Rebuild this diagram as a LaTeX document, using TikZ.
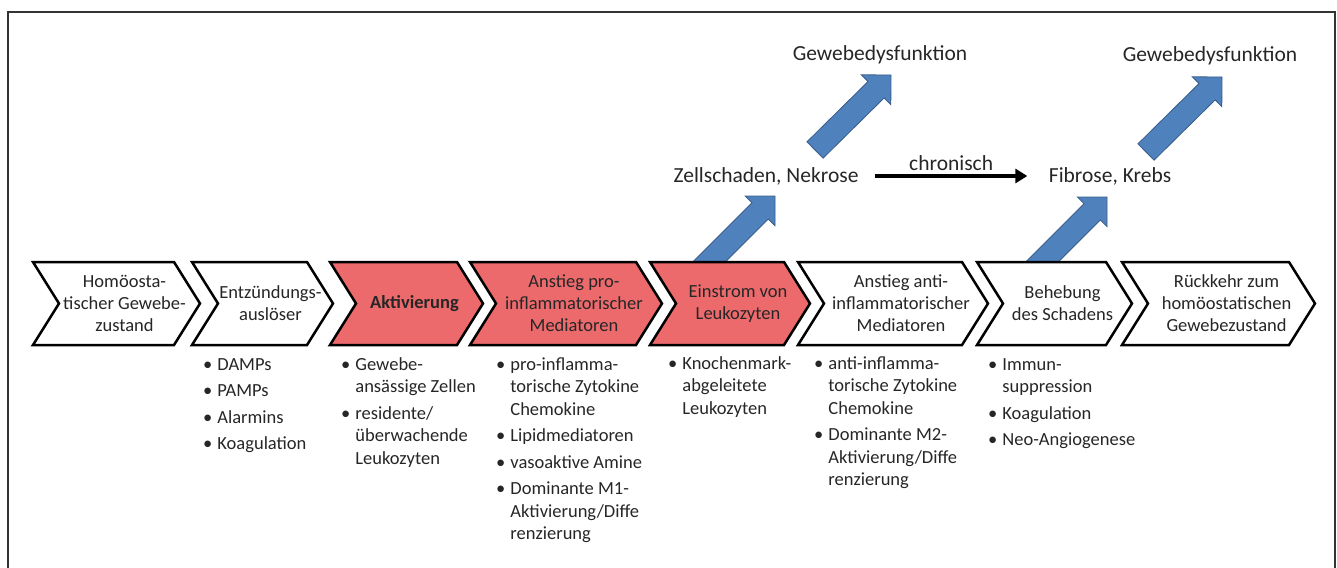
\documentclass[tikz,border=0pt]{standalone}
\usepackage{fontspec}
\setmainfont{Carlito}
\usetikzlibrary{calc,arrows.meta}
\definecolor{chevred}{RGB}{236,106,108}
\definecolor{arrblue}{RGB}{79,129,189}
\definecolor{arredge}{RGB}{56,93,138}
\newcommand{\chev}[5]{%
  \draw[chevline,fill=#4] (#2,262)--(#3-26,262)--(#3,303.5)--(#3-26,345)--(#2,345)--(#2+26,303.5)--cycle;%
  \node[chevtext] (#1) at ({(#2+#3)/2+8},303.5) {#5};%
}
\newcommand{\fatarrow}[2]{%
  \coordinate (fa) at ($(#2)!21pt!(#1)$);%
  \filldraw[fatarrow] ($(#1)!11.5pt!90:(#2)$)--($(fa)!11.5pt!90:(#2)$)--($(fa)!21pt!90:(#2)$)--(#2)%
    --($(fa)!21pt!-90:(#2)$)--($(fa)!11.5pt!-90:(#2)$)--($(#1)!11.5pt!-90:(#2)$)--cycle;%
}
\newcommand{\itemlist}[1]{\begin{tabular}[t]{@{}l@{\hspace{5pt}}l@{}}#1\end{tabular}}

\begin{document}
\begin{tikzpicture}[x=1pt,y=-1pt,
  chevline/.style={draw=black,line width=2.5pt},
  chevtext/.style={align=center,font=\fontsize{18.5}{22}\selectfont,text=black!85},
  bullets/.style={anchor=base west,inner sep=0pt,font=\fontsize{18.5}{22.5}\selectfont,text=black!85},
  toptext/.style={font=\fontsize{21.5}{26}\selectfont,text=black!85},
  fatarrow/.style={fill=arrblue,draw=arredge,line width=0.8pt},
  chron/.style={line width=4pt,-{Triangle[length=12pt,width=14pt]}}]
  \useasboundingbox (0,0) rectangle (1337,567);
  \draw[line width=2pt,black!80] (8,575)--(8,12)--(1335,12)--(1335,575);

  \node[toptext] (gew1) at (880,55) {Gewebedysfunktion};
  \node[toptext] (gew2) at (1210,56) {Gewebedysfunktion};
  \node[toptext] (zell) at (766,176) {Zellschaden, Nekrose};
  \node[toptext] (fib) at (1110,176) {Fibrose, Krebs};
  \draw[chron] ($(zell.east)+(13,0)$) -- node[above,toptext]{chronisch} ($(fib.west)+(-18,0)$);

  \coordinate (t1) at (686,285); \coordinate (h1) at (775,196);
  \coordinate (t2) at (815,150); \coordinate (h2) at (891,75);
  \coordinate (t3) at (1019,285); \coordinate (h3) at (1107,197);
  \coordinate (t4) at (1146,152); \coordinate (h4) at (1222,77);
  \fatarrow{t1}{h1} \fatarrow{t2}{h2} \fatarrow{t3}{h3} \fatarrow{t4}{h4}

  \chev{c1}{33}{200}{white}{Homöosta-\\tischer Gewebe-\\zustand}
  \chev{c2}{192}{333}{white}{Entzündungs-\\auslöser}
  \chev{c3}{330}{483}{chevred}{\textbf{Aktivierung}}
  \chev{c4}{470}{662}{chevred}{Anstieg pro-\\inflammatorischer\\Mediatoren}
  \chev{c5}{650}{810}{chevred}{Einstrom von\\Leukozyten}
  \chev{c6}{798}{988}{white}{Anstieg anti-\\inflammatorischer\\Mediatoren}
  \chev{c7}{977}{1132}{white}{Behebung\\des Schadens}
  \chev{c8}{1122}{1315}{white}{Rückkehr zum\\homöostatischen\\Gewebezustand}

  \node[bullets] (l2) at (203,370) {\itemlist{\textbullet&DAMPs\\[4pt]\textbullet&PAMPs\\[4pt]\textbullet&Alarmins\\[4pt]\textbullet&Koagulation}};
  \node[bullets] (l3) at (341,370) {\itemlist{\textbullet&Gewebe-\\&ansässige Zellen\\[4pt]\textbullet&residente/\\&überwachende\\&Leukozyten}};
  \node[bullets] (l4) at (496,370) {\itemlist{\textbullet&pro-inflamma-\\&torische Zytokine\\&Chemokine\\[4pt]\textbullet&Lipidmediatoren\\[4pt]\textbullet&vasoaktive Amine\\[4pt]\textbullet&Dominante M1-\\&Aktivierung/Diffe\\&renzierung}};
  \node[bullets] (l5) at (668,369) {\itemlist{\textbullet&Knochenmark-\\&abgeleitete\\&Leukozyten}};
  \node[bullets] (l6) at (814,369) {\itemlist{\textbullet&anti-inflamma-\\&torische Zytokine\\&Chemokine\\[4pt]\textbullet&Dominante M2-\\&Aktivierung/Diffe\\&renzierung}};
  \node[bullets] (l7) at (988,370) {\itemlist{\textbullet&Immun-\\&suppression\\[4pt]\textbullet&Koagulation\\[4pt]\textbullet&Neo-Angiogenese}};
\end{tikzpicture}
\end{document}
